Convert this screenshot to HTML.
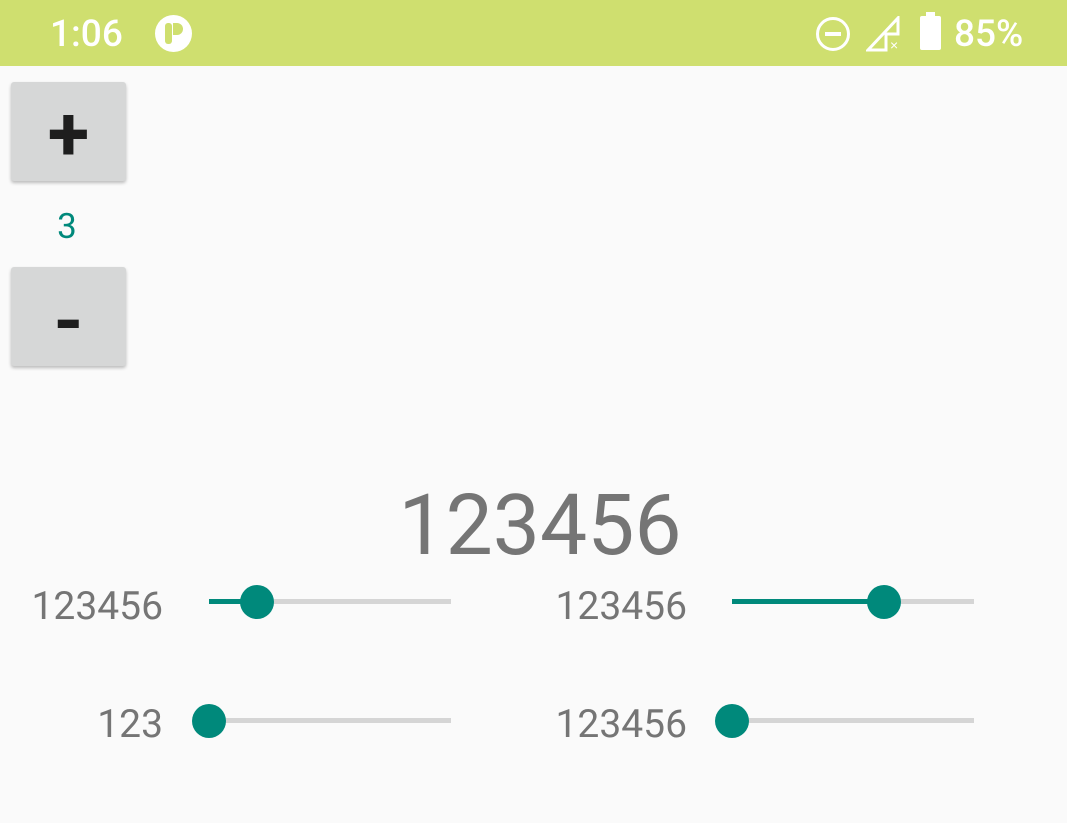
<!DOCTYPE html>
<html><head><meta charset="utf-8"><style>
*{margin:0;padding:0;box-sizing:border-box}
body{width:1067px;height:823px;background:#fafafa;font-family:"Roboto","Liberation Sans",sans-serif;position:relative;overflow:hidden}
.abs{position:absolute}
.status{left:0;top:0;width:1067px;height:66px;background:#cfdf6f}
.time{left:50px;top:13px;color:#fff;font-size:37px;font-weight:500}
.btn{left:11px;width:115px;height:99px;background:#d6d7d7;border-radius:3px;box-shadow:0 2px 3px rgba(0,0,0,.25);color:#1e1e1e;font-size:76px;font-weight:bold;text-align:center;line-height:104px}
.lbl{color:#757575;font-size:39px;text-align:right;width:200px;line-height:40px}
.track{height:5px;background:#d5d5d5}
.active{height:5px;background:#00897b}
.thumb{width:34px;height:34px;border-radius:50%;background:#00897b}
</style></head><body>
<div class="abs status">
 <div class="abs time">1:06</div>
 <div class="abs" style="left:155px;top:15px;width:37px;height:37px;border-radius:50%;background:#fff">
  <div class="abs" style="left:10px;top:8px;width:7px;height:21px;background:#cfdf6f;border-radius:3px"></div>
  <div class="abs" style="left:18px;top:8px;width:10px;height:12px;background:#cfdf6f;border-radius:0 6px 6px 0"></div>
 </div>
 <div class="abs" style="left:816px;top:17px;width:34px;height:34px;border:3px solid #fff;border-radius:50%"><div class="abs" style="left:6px;top:12px;width:16px;height:4px;background:#fff"></div></div>
 <svg class="abs" style="left:866px;top:16px" width="36" height="36"><path d="M2 34 L32 2 L32 18 L20 18 L20 34 Z" fill="none" stroke="#fff" stroke-width="3"/><text x="24" y="34" fill="#fff" font-size="14" font-family="Liberation Sans">×</text></svg>
 <div class="abs" style="left:920px;top:16px;width:21px;height:34px;background:#fff;border-radius:2px"><div class="abs" style="left:6px;top:-4px;width:9px;height:4px;background:#fff"></div></div>
 <div class="abs time" style="left:954px">85%</div>
</div>
<div class="abs btn" style="top:82px">+</div>
<div class="abs" style="left:37px;top:206px;width:60px;text-align:center;color:#00897b;font-size:35px">3</div>
<div class="abs btn" style="top:267px;line-height:108px">-</div>
<div class="abs" style="left:290px;top:476px;width:500px;text-align:center;color:#757575;font-size:84px;line-height:100px">123456</div>

<div class="abs lbl" style="left:-37px;top:586px">123456</div>
<div class="abs track" style="left:209px;top:599px;width:242px"></div>
<div class="abs active" style="left:209px;top:599px;width:48px"></div>
<div class="abs thumb" style="left:240px;top:585px"></div>

<div class="abs lbl" style="left:487px;top:586px">123456</div>
<div class="abs track" style="left:732px;top:599px;width:242px"></div>
<div class="abs active" style="left:732px;top:599px;width:152px"></div>
<div class="abs thumb" style="left:867px;top:585px"></div>

<div class="abs lbl" style="left:-37px;top:704px">123</div>
<div class="abs track" style="left:209px;top:718px;width:242px"></div>
<div class="abs thumb" style="left:192px;top:704px"></div>

<div class="abs lbl" style="left:487px;top:704px">123456</div>
<div class="abs track" style="left:732px;top:718px;width:242px"></div>
<div class="abs thumb" style="left:715px;top:704px"></div>
</body></html>
